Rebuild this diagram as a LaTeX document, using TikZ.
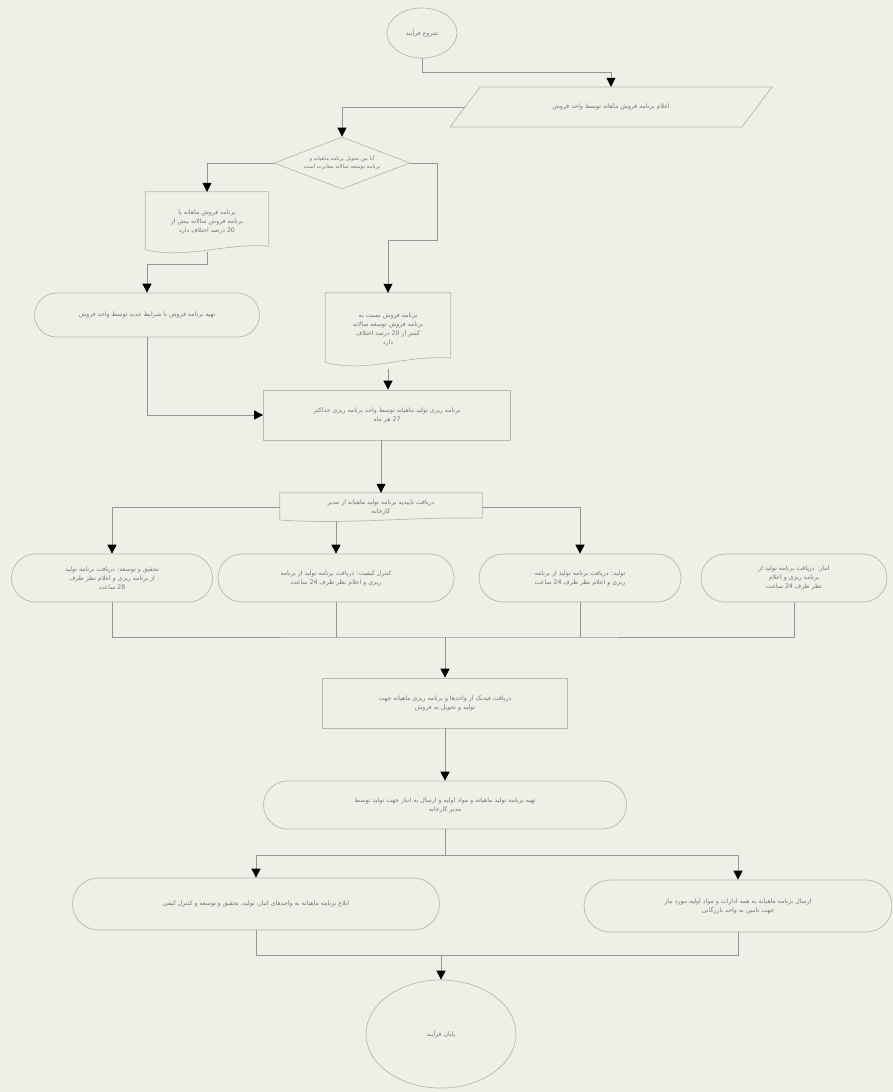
\documentclass[tikz,border=0pt]{standalone}
\usepackage{fontspec}
\newfontfamily\arabicfont[Script=Arabic]{DejaVu Sans}
\TeXXeTstate=1
\usetikzlibrary{shapes.geometric,shapes.misc,arrows.meta,calc}
\definecolor{bgc}{RGB}{239,239,231}
\definecolor{shpc}{RGB}{185,185,178}
\definecolor{linec}{RGB}{150,150,145}
\definecolor{txtc}{RGB}{120,120,115}
\newcommand\fa[1]{\beginR #1\endR}
% document shape drawn around an undrawn node: #1 name, #2 wave amplitude
\newcommand\docshape[2]{%
  \draw[shp] ($(#1.south west)+(0,-#2*0.4)$) -- (#1.north west) -- (#1.north east)
    -- ($(#1.south east)+(0,-#2)$)
    .. controls ($(#1.south west)!0.65!(#1.south east)+(0,-#2*1.6)$)
       and ($(#1.south west)!0.35!(#1.south east)+(0,#2*1.2)$)
    .. ($(#1.south west)+(0,-#2*0.4)$);}
\begin{document}
\begin{tikzpicture}[x=1pt,y=-1pt,
  shp/.style={draw=shpc, line width=0.7pt},
  txt/.style={font=\arabicfont\fontsize{6.2}{9}\selectfont, text=txtc, align=center, inner sep=1pt},
  term/.style={rounded rectangle, shp, txt},
  box/.style={rectangle, shp, txt},
  docbox/.style={rectangle, draw=none, txt},
  conn/.style={draw=linec, line width=0.7pt},
  arr/.style={conn, -{Triangle[length=9pt,width=9pt,color=black]}}]
\fill[bgc] (0,0) rectangle (893,1092);
\useasboundingbox (0,0) rectangle (893,1092);

% start
\node[ellipse, shp, txt, minimum width=70, minimum height=50] (start) at (422,33) {\fa{شروع فرآیند}};

% parallelogram
\node[docbox, minimum width=290, minimum height=40] (par) at (611,107) {\fa{اعلام برنامه فروش ماهانه توسط واحد فروش}};
\coordinate (pTL) at (480,87);
\coordinate (pTR) at (772,87);
\coordinate (pBR) at (742,127);
\coordinate (pBL) at (450,127);
\draw[shp] (pTL) -- (pTR) -- (pBR) -- (pBL) -- cycle;
\coordinate (parL) at (465,107);

% decision
\node[diamond, shp, minimum width=136, minimum height=52, inner sep=0pt] (dia) at (342,163) {};
\node[docbox, font=\arabicfont\fontsize{5.4}{8}\selectfont] (diat) at (342,163) {\fa{آیا بین تحویل برنامه ماهیانه و}\\\fa{برنامه توسعه سالانه مغایرت است}};

% left document
\node[docbox, minimum width=123, minimum height=60] (ld) at (207,222) {\fa{برنامه فروش ماهانه با}\\\fa{برنامه فروش سالانه بیش از}\\\fa{20 درصد اختلاف دارد}};
\docshape{ld}{6}

% left terminal
\node[term, minimum width=227, minimum height=44] (lt) at (147,315) {\fa{تهیه برنامه فروش با شرایط جدید توسط واحد فروش}};

% right document
\node[docbox, minimum width=125, minimum height=72] (rd) at (388,329) {\fa{برنامه فروش نسبت به}\\\fa{برنامه فروش توسعه سالانه}\\\fa{کمتر از 20 درصد اختلاف}\\\fa{دارد}};
\docshape{rd}{7}

% planning rectangle
\node[box, minimum width=247, minimum height=50] (r1) at (387,415) {\fa{برنامه ریزی تولید ماهیانه توسط واحد برنامه ریزی حداکثر}\\\fa{27 هر ماه}};

% approval document
\node[docbox, minimum width=202, minimum height=28] (d2) at (381,507) {\fa{دریافت تاییدیه برنامه تولید ماهیانه از مدیر}\\\fa{کارخانه}};
\docshape{d2}{3}

% four terminals
\node[term, minimum width=203, minimum height=48] (t1) at (112,578) {\fa{تحقیق و توسعه: دریافت برنامه تولید}\\\fa{از برنامه ریزی و اعلام نظر ظرف}\\\fa{28 ساعت}};
\node[term, minimum width=238, minimum height=48] (t2) at (336,578) {\fa{کنترل کیفیت: دریافت برنامه تولید از برنامه}\\\fa{ریزی و اعلام نظر ظرف 24 ساعت}};
\node[term, minimum width=204, minimum height=48] (t3) at (580,578) {\fa{تولید: دریافت برنامه تولید از برنامه}\\\fa{ریزی و اعلام نظر ظرف 24 ساعت}};
\node[term, minimum width=188, minimum height=48] (t4) at (794,578) {\fa{انبار: دریافت برنامه تولید از}\\\fa{برنامه ریزی و اعلام}\\\fa{نظر ظرف 24 ساعت}};

% feedback rectangle
\node[box, minimum width=245, minimum height=50] (r2) at (445,703) {\fa{دریافت فیدبک از واحدها و برنامه ریزی ماهیانه جهت}\\\fa{تولید و تحویل به فروش}};

% terminal 5
\node[term, minimum width=365, minimum height=48] (t5) at (445,805) {\fa{تهیه برنامه تولید ماهیانه و مواد اولیه و ارسال به انبار جهت تولید توسط}\\\fa{مدیر کارخانه}};

% terminals 6 and 7
\node[term, minimum width=369, minimum height=52] (t6) at (256,904) {\fa{ابلاغ برنامه ماهیانه به واحدهای انبار، تولید، تحقیق و توسعه و کنترل کیفی}};
\node[term, minimum width=310, minimum height=52] (t7) at (738,906) {\fa{ارسال برنامه ماهیانه به همه ادارات و مواد اولیه مورد نیاز}\\\fa{جهت تامین به واحد بازرگانی}};

% end
\node[ellipse, shp, txt, minimum width=150, minimum height=108] (end) at (441,1034) {\fa{پایان فرآیند}};

% join points
\coordinate (join1) at (445,637);
\coordinate (join2) at (445,855);
\coordinate (join3) at (441,955);

% connectors
\draw[arr] (start.south) -- ++(0,14) -| (par.north);
\draw[arr] (parL) -| (dia.north);
\draw[arr] (dia.west) -| (ld.north);
\draw[arr] (dia.east) -- ++(27,0) -- ++(0,77) -| (rd.north);
\draw[arr] (ld.south) -- ++(0,12) -| (lt.north);
\draw[arr] (lt.south) |- (r1.west);
\draw[arr] ($(rd.south)+(0,4)$) -- (rd.south |- r1.north);
\draw[arr] (d2.north |- r1.south) -- (d2.north);
\draw[arr] (d2.west) -| (t1.north);
\draw[arr] (d2.east) -| (t3.north);
\draw[arr] (t2.north |- d2.south) -- (t2.north);
\draw[conn] (t1.south) |- (join1) -| (t4.south);
\draw[conn] (t2.south) -- (t2.south |- join1);
\draw[conn] (t3.south) -- (t3.south |- join1);
\draw[arr] (join1) -- (r2.north);
\draw[arr] (r2.south) -- (t5.north);
\draw[conn] (t5.south) -- (join2);
\draw[arr] (join2) -| (t6.north);
\draw[arr] (join2) -| (t7.north);
\draw[conn] (t6.south) |- (join3) -| (t7.south);
\draw[arr] (join3) -- (end.north);
\end{tikzpicture}
\end{document}
